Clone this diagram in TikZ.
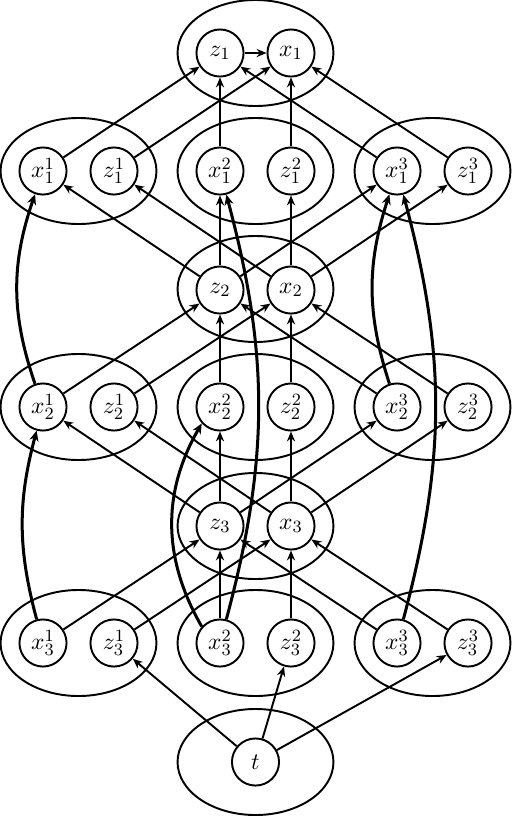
\documentclass[tikz,border=0pt]{standalone}
\usetikzlibrary{arrows.meta,shapes.geometric}
\tikzset{
  var/.style={circle,draw,line width=0.9pt,minimum size=21.9pt,inner sep=0pt,font=\fontsize{11.2}{13}\selectfont},
  grp/.style={ellipse,draw,line width=0.9pt,minimum width=72.5pt,minimum height=49.3pt,inner sep=0pt},
  arr/.style={line width=0.9pt,-{Stealth[length=4.6pt,width=3.8pt]}},
  carr/.style={line width=1.4pt,-{Stealth[length=4.8pt,width=4.2pt]}}
}
\begin{document}
\begin{tikzpicture}[x=0.465pt,y=-0.465pt]
\useasboundingbox (0,0) rectangle (512,816);
% group ellipses
\node[grp] (G1) at (255.5,53) {};
\node[grp] (G11) at (78.5,171) {};
\node[grp] (G12) at (255.5,171) {};
\node[grp] (G13) at (432.5,171) {};
\node[grp] (G2) at (255.5,289) {};
\node[grp] (G21) at (78.5,407) {};
\node[grp] (G22) at (255.5,407) {};
\node[grp] (G23) at (432.5,407) {};
\node[grp] (G3) at (255.5,526) {};
\node[grp] (G31) at (78.5,643) {};
\node[grp] (G32) at (255.5,643) {};
\node[grp] (G33) at (432.5,643) {};
\node[grp] (GT) at (255.5,762) {};
% variables
\node[var] (Z1) at (220,53) {$z_1$};
\node[var] (X1) at (291,53) {$x_1$};
\node[var] (Z2) at (220,290) {$z_2$};
\node[var] (X2) at (291,290) {$x_2$};
\node[var] (Z3) at (220,526) {$z_3$};
\node[var] (X3) at (291,526) {$x_3$};
\node[var] (T) at (255.5,762) {$t$};
\foreach \k/\y in {1/171,2/407,3/643}{
  \node[var] (x\k1) at (43,\y) {$x_\k^1$};
  \node[var] (z\k1) at (114,\y) {$z_\k^1$};
  \node[var] (x\k2) at (220,\y) {$x_\k^2$};
  \node[var] (z\k2) at (291,\y) {$z_\k^2$};
  \node[var] (x\k3) at (397,\y) {$x_\k^3$};
  \node[var] (z\k3) at (468,\y) {$z_\k^3$};
}
% straight edges
\draw[arr] (Z1) -- (X1);
\foreach \k/\m in {1/1,2/2,3/3}{
  \foreach \i in {1,2,3}{
    \draw[arr] (x\k\i) -- (Z\m);
    \draw[arr] (z\k\i) -- (X\m);
  }
}
\foreach \k/\m in {1/2,2/3}{
  \foreach \i in {1,2,3}{
    \draw[arr] (Z\m) -- (x\k\i);
    \draw[arr] (X\m) -- (z\k\i);
  }
}
\foreach \i in {1,2,3}{
  \draw[arr] (T) -- (z3\i);
}
% curved edges
\draw[carr] (x21) to[bend left=19] (x11);
\draw[carr] (x31) to[bend left=15] (x21);
\draw[carr] (x32) to[bend right=15] (x12);
\draw[carr] (x32.138) to[bend left=30] (x22.222);
\draw[carr] (x23) to[bend left=18] (x13);
\draw[carr] (x33) to[bend right=15] (x13);
\end{tikzpicture}
\end{document}
